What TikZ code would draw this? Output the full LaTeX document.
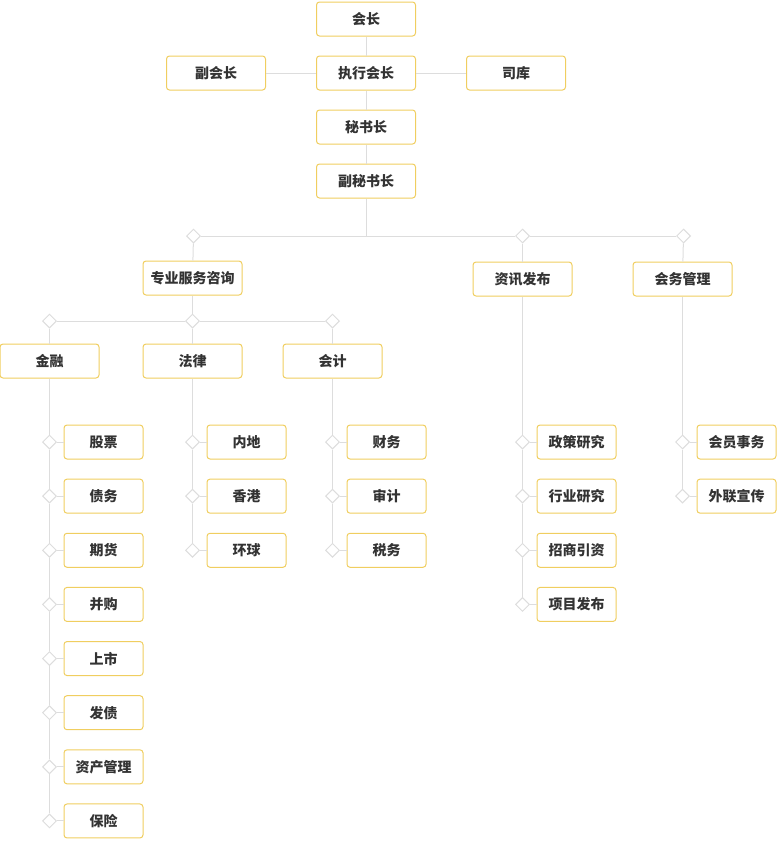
\documentclass[tikz,border=0pt]{standalone}
\usepackage{fontspec}
\usepackage{tikz}
\usetikzlibrary{calc,shapes.geometric}
\newfontfamily\cjk{Noto Sans CJK SC}
\definecolor{boxline}{RGB}{240,206,96}
\definecolor{linkgray}{RGB}{221,221,221}
\definecolor{txt}{RGB}{51,51,51}
\tikzset{
  box/.style={draw=boxline, line width=1pt, rounded corners=3pt, fill=white,
    minimum width=99pt, minimum height=34pt, inner sep=0pt,
    font=\cjk\bfseries\fontsize{14pt}{16pt}\selectfont, text=txt},
  leaf/.style={box, minimum width=79pt},
  dia/.style={draw=linkgray, line width=1pt, fill=white, diamond, aspect=1,
    minimum width=14pt, minimum height=14pt, inner sep=0pt},
  link/.style={draw=linkgray, line width=1pt}
}

\begin{document}
\begin{tikzpicture}[x=1pt, y=-1pt]
      \useasboundingbox (0,0) rectangle (781,841);

      % top of the chart
      \node [box] (hz) at (366, 19) {会长};
      \node [box] (zxhz) at (366, 73) {执行会长};
      \node [box] (fhz) at (216, 73) {副会长};
      \node [box] (sk) at (516, 73) {司库};
      \node [box] (msz) at (366, 127) {秘书长};
      \node [box] (fmsz) at (366, 181) {副秘书长};
      \draw [link] (hz) -- (zxhz);
      \draw [link] (fhz) -- (zxhz);
      \draw [link] (zxhz) -- (sk);
      \draw [link] (zxhz) -- (msz);
      \draw [link] (msz) -- (fmsz);

      % departments
      \node [dia] (d1) at (193.5, 236) {};
      \node [dia] (d2) at (522.5, 236) {};
      \node [dia] (d3) at (683.5, 236) {};
      \coordinate (hub) at (fmsz |- d1);
      \draw [link] (fmsz) -- (hub);
      \draw [link] (d1) -- (d2);
      \draw [link] (d2) -- (d3);
      \node [box] (zyfw) at (192.5, 278) {专业服务咨询};
      \node [box] (zxfb) at (522.5, 279) {资讯发布};
      \node [box] (hwgl) at (682.5, 279) {会务管理};
      \draw [link] (d1) -- (zyfw);
      \draw [link] (d2) -- (zxfb);
      \draw [link] (d3) -- (hwgl);

      % professional services
      \node [dia] (d4) at (49.5, 321) {};
      \node [dia] (d5) at (192.5, 321) {};
      \node [dia] (d6) at (332.5, 321) {};
      \draw [link] (zyfw) -- (d5);
      \draw [link] (d4) -- (d5);
      \draw [link] (d5) -- (d6);
      \node [box] (jr) at (49.5, 361) {金融};
      \node [box] (fl) at (192.5, 361) {法律};
      \node [box] (kj) at (332.5, 361) {会计};
      \draw [link] (d4) -- (jr);
      \draw [link] (d5) -- (fl);
      \draw [link] (d6) -- (kj);

      % leaves
      \foreach \col/\x/\list in {jr/49.5/{股票,债务,期货,并购,上市,发债,资产管理,保险},
                                 fl/192.5/{内地,香港,环球},
                                 kj/332.5/{财务,审计,税务},
                                 zxfb/522.5/{政策研究,行业研究,招商引资,项目发布},
                                 hwgl/682.5/{会员事务,外联宣传}}
               {
                 \foreach \name [count=\i] in \list
                          {
                            \node [dia] (\col d\i) at (\x, 442+54.14*\i-54.14) {};
                            \node [leaf] (\col l\i) at ($ (\col d\i) + (54, 0) $) {\name};
                            \draw [link] (\col d\i) -- (\col l\i);
                          }
                 \draw [link] (\col) -- (\col d1);
               }
      \foreach \a/\b in {jrd1/jrd2, jrd2/jrd3, jrd3/jrd4, jrd4/jrd5, jrd5/jrd6, jrd6/jrd7, jrd7/jrd8,
                         fld1/fld2, fld2/fld3, kjd1/kjd2, kjd2/kjd3,
                         zxfbd1/zxfbd2, zxfbd2/zxfbd3, zxfbd3/zxfbd4, hwgld1/hwgld2}
               {
                 \draw [link] (\a) -- (\b);
               }
    \end{tikzpicture}
\end{document}
